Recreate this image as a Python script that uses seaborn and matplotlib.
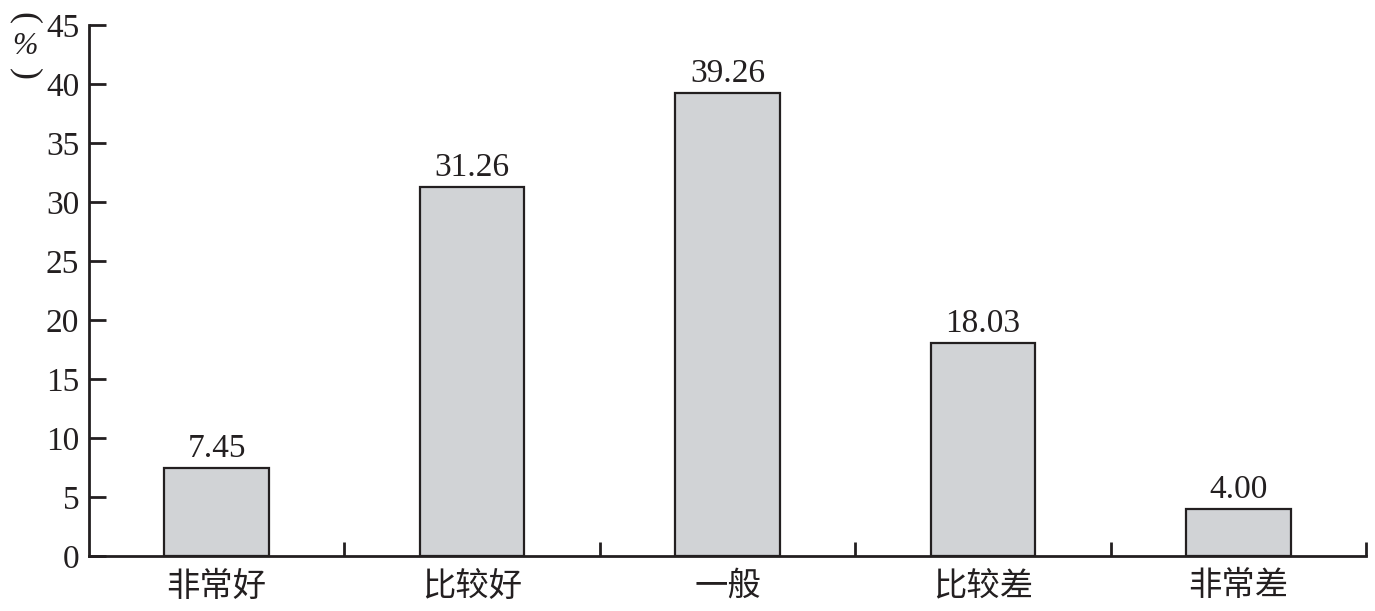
import matplotlib
matplotlib.use("Agg")
import matplotlib.pyplot as plt
import seaborn as sns
import pandas as pd
from matplotlib.ticker import FixedLocator

categories = ["非常好", "比较好", "一般", "比较差", "非常差"]
values = [7.45, 31.26, 39.26, 18.03, 4.00]
y_ticks = [0, 5, 10, 15, 20, 25, 30, 35, 40, 45]

sns.set_style("ticks")
plt.rcParams["font.family"] = ["Liberation Serif", "Noto Sans CJK SC", "DejaVu Sans"]

df = pd.DataFrame({"cat": categories, "val": values})

fig = plt.figure(figsize=(13.75, 6.11), dpi=100)
ax = fig.add_axes([89 / 1375, 55 / 611, (1366 - 89) / 1375, (556 - 25) / 611])

sns.barplot(data=df, x="cat", y="val", ax=ax, color="#d1d3d6", width=0.41,
            edgecolor="#231f20", linewidth=1.6, saturation=1)

for c in ax.containers:
    ax.bar_label(c, labels=[f"{v:.2f}" for v in values], padding=3,
                 fontsize=24, family="Liberation Serif", color="#231f20")

ax.set_xlim(-0.5, 4.5)
ax.set_ylim(0, 45)
ax.set_yticks(y_ticks)
ax.set_yticklabels([str(t) for t in y_ticks], fontsize=24, family="Liberation Serif")
ax.set_xticks(range(len(categories)))
ax.set_xticklabels(categories, fontsize=24, family="Noto Sans CJK SC")
ax.xaxis.set_minor_locator(FixedLocator([0.5, 1.5, 2.5, 3.5, 4.5]))
ax.tick_params(axis="x", which="major", length=0, pad=9, colors="#231f20")
ax.tick_params(axis="x", which="minor", direction="in", length=10, width=2, color="#231f20")
ax.tick_params(axis="y", direction="in", length=12, width=2, pad=7, colors="#231f20")
ax.set_xlabel("")
ax.set_ylabel("")
for s in ["top", "right"]:
    ax.spines[s].set_visible(False)
for s in ["left", "bottom"]:
    ax.spines[s].set_linewidth(2)
    ax.spines[s].set_color("#231f20")

txt_kw = dict(ha="center", va="center", family="Liberation Serif", color="#231f20")
fig.text(25 / 1375, 1 - 18 / 611, "(", rotation=-90, fontsize=26, **txt_kw)
fig.text(25 / 1375, 1 - 46 / 611, "%", fontsize=22, style="italic", **txt_kw)
fig.text(25 / 1375, 1 - 74 / 611, ")", rotation=-90, fontsize=26, **txt_kw)

fig.savefig("out.png", dpi=100)
